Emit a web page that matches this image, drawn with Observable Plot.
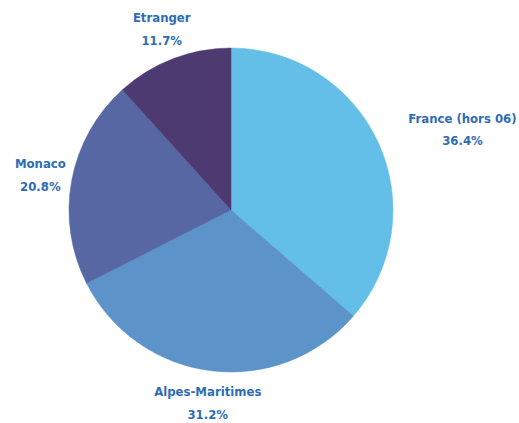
<!DOCTYPE html>
<html><head><meta charset="utf-8">
<script src="https://cdn.jsdelivr.net/npm/d3@7"></script>
<script src="https://cdn.jsdelivr.net/npm/@observablehq/plot@0.6"></script>
<style>body{margin:0;background:#fff} svg text{font-stretch:condensed}</style>
</head><body><div id="chart"></div>
<script>
const categories = ["France (hors 06)", "Alpes-Maritimes", "Monaco", "Etranger"];
const values = [36.4, 31.2, 20.8, 11.7];
const colors = ["#63bee8", "#5c93c9", "#5667a3", "#4d3a70"];

const W = 519, H = 423, cxPx = 231, cyPx = 210, Rpx = 162;
const FONT = "'DejaVu Sans',sans-serif";
const FS = 13;
const pie = d3.pie().sort(null).value(d => d.value)(categories.map((c, i) => ({name: c, value: values[i], color: colors[i]})));

const ctx = document.createElement("canvas").getContext("2d");
ctx.font = `bold ${FS}px ${FONT}`;
try { ctx.fontStretch = "condensed"; } catch (e) {}
const LR = 1.2;
const labels = pie.map(a => {
  const mid = (a.startAngle + a.endAngle) / 2;
  let x = LR * Math.sin(mid);
  const y = LR * Math.cos(mid);
  const pct = d3.format(".1f")(a.data.value) + "%";
  const text = a.data.name + "\n" + pct;
  const w = Math.max(ctx.measureText(a.data.name).width, ctx.measureText(pct).width) / Rpx;
  const ext = Math.abs(y) < 1 ? Math.sqrt(1 - y * y) : 0;
  // push the centred label block outward if it would overlap the pie
  if (Math.abs(x) > 0.3 && Math.abs(x) - w / 2 < ext + 0.03) x += Math.sign(x) * w / 2;
  return {x, y, text};
});

const pieMark = (index, scales) => {
  const cx = scales.x(0), cy = scales.y(0), r = scales.x(1) - scales.x(0);
  const g = d3.create("svg:g").attr("transform", `translate(${cx},${cy})`);
  const arc = d3.arc().innerRadius(0).outerRadius(r);
  g.selectAll("path").data(pie).join("path")
    .attr("d", arc).attr("fill", d => d.data.color)
    .attr("stroke", d => d.data.color).attr("stroke-width", 0.5);
  return g.node();
};

const plot = Plot.plot({
  width: W, height: H, margin: 0,
  style: {fontFamily: FONT, background: "#fff"},
  x: {domain: [-cxPx / Rpx, (W - cxPx) / Rpx], axis: null},
  y: {domain: [-(H - cyPx) / Rpx, cyPx / Rpx], axis: null},
  marks: [
    pieMark,
    Plot.text(labels, {x: "x", y: "y", dy: -3, text: "text", fill: "#2e6cb6", fontSize: FS, fontWeight: "bold", lineHeight: 1.75, textAnchor: "middle"})
  ]
});
document.getElementById("chart").appendChild(plot);
</script></body></html>
